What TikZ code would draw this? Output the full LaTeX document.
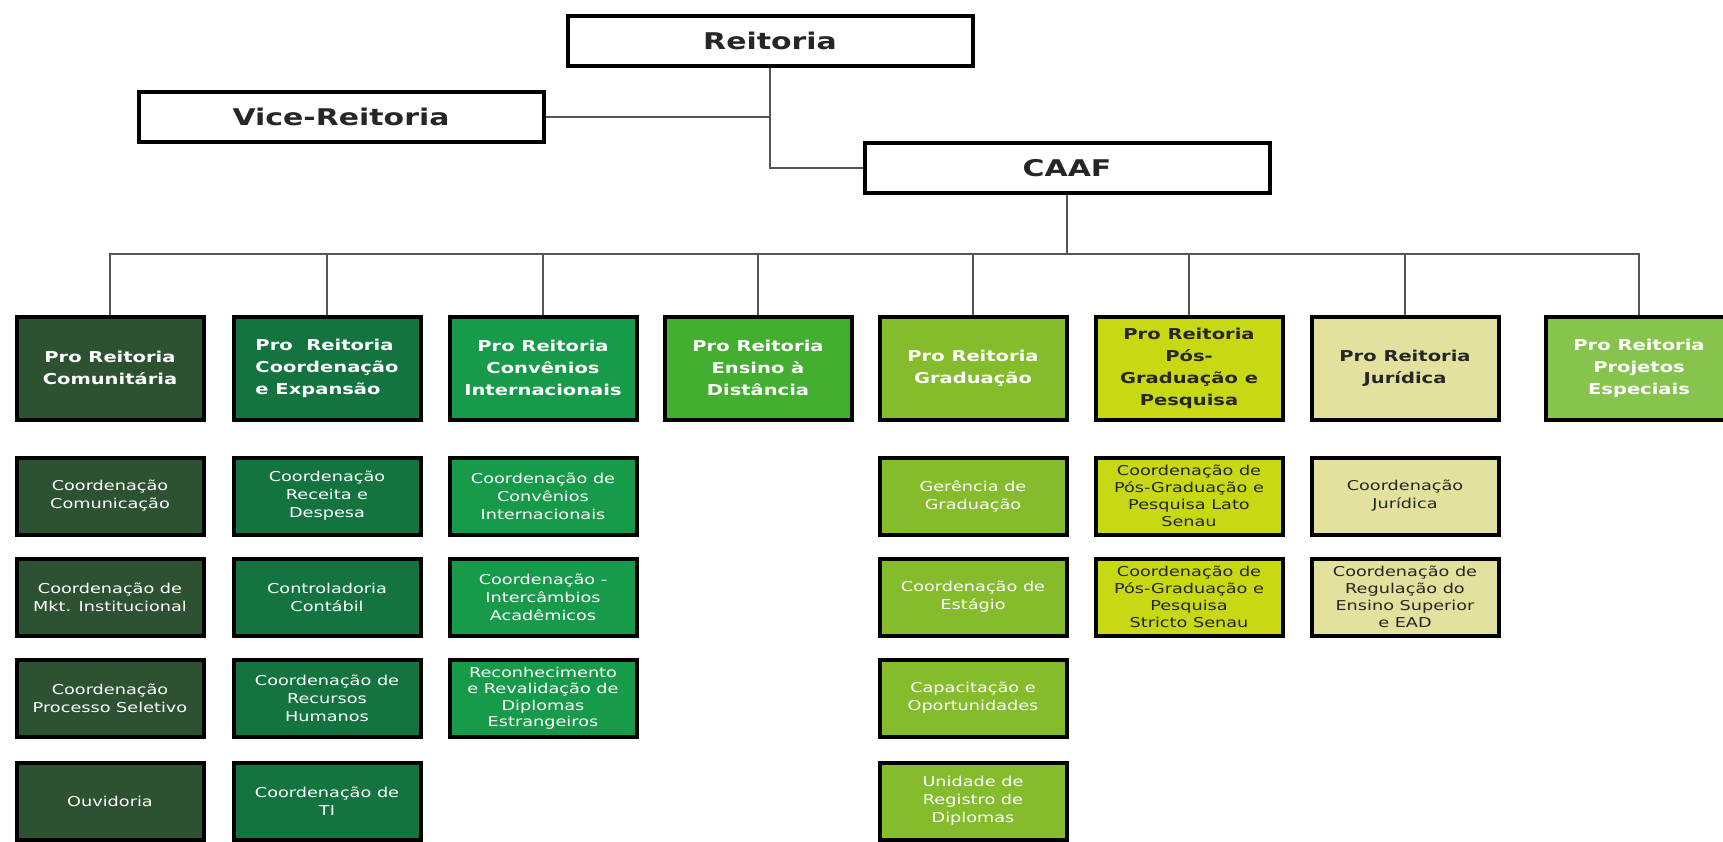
\documentclass[tikz,border=0pt]{standalone}
\usepackage{fontspec}
\setmainfont{DejaVu Sans}[FakeStretch=1.3]
\usetikzlibrary{shadows}
\definecolor{cA}{HTML}{2D5232}
\definecolor{cB}{HTML}{137440}
\definecolor{cC}{HTML}{179A4A}
\definecolor{cD}{HTML}{44AE30}
\definecolor{cE}{HTML}{84BC2C}
\definecolor{cF}{HTML}{C8D812}
\definecolor{cG}{HTML}{E2E29E}
\definecolor{cH}{HTML}{86C44E}
\definecolor{linec}{HTML}{555555}
\tikzset{
  boxbase/.style={draw=black, line width=4pt, inner sep=0pt, align=center,
    drop shadow={shadow xshift=2pt, shadow yshift=-2pt, opacity=0.35, fill=gray}},
  headbox/.style={boxbase, fill=white, minimum width=405, minimum height=50,
    font=\fontsize{23}{27}\selectfont\bfseries, text=black!85},
  probox/.style={boxbase, minimum width=187, minimum height=103,
    font=\fontsize{15}{22}\selectfont\bfseries, text=white},
  subbox/.style={boxbase, minimum width=187, minimum height=77,
    font=\fontsize{13.6}{18}\selectfont, text=white},
  conn/.style={draw=linec, line width=1.4pt}
}
\begin{document}
\begin{tikzpicture}[x=1pt,y=-1pt]
\useasboundingbox (0,0) rectangle (1723,842);
% top level
\node[headbox] (reit) at (770,41) {Reitoria};
\node[headbox] (vice) at (341,117) {Vice-Reitoria};
\node[headbox] (caaf) at (1067,168) {CAAF};
% pro-reitorias
\node[probox, fill=cA] (p1) at (110,368) {Pro Reitoria\\Comunitária};
\node[probox, fill=cB, align=left] (p2) at (327,368) {Pro\ \ Reitoria\\Coordenação\\e Expansão};
\node[probox, fill=cC] (p3) at (543,368) {Pro Reitoria\\Convênios\\Internacionais};
\node[probox, fill=cD] (p4) at (758,368) {Pro Reitoria\\Ensino à\\Distância};
\node[probox, fill=cE] (p5) at (973,368) {Pro Reitoria\\Graduação};
\node[probox, fill=cF, text=black!85] (p6) at (1189,368) {Pro Reitoria\\Pós-\\Graduação e\\Pesquisa};
\node[probox, fill=cG, text=black!85] (p7) at (1405,368) {Pro Reitoria\\Jurídica};
\node[probox, fill=cH] (p8) at (1639,368) {Pro Reitoria\\Projetos\\Especiais};
% connectors
\coordinate (bus) at (0,254);
\draw[conn] (vice.east) -- (vice.east -| reit.south);
\draw[conn] (reit.south) |- (caaf.west);
\draw[conn] (caaf.south) -- (caaf.south |- bus);
\draw[conn] (p1.north) |- (p8.north |- bus) -- (p8.north);
\foreach \n in {p2,p3,p4,p5,p6,p7} \draw[conn] (\n.north) -- (\n.north |- bus);
% column 1
\node[subbox, fill=cA] (s11) at (110,496) {Coordenação\\Comunicação};
\node[subbox, fill=cA] (s12) at (110,597) {Coordenação de\\Mkt. Institucional};
\node[subbox, fill=cA] (s13) at (110,698) {Coordenação\\Processo Seletivo};
\node[subbox, fill=cA] (s14) at (110,801) {Ouvidoria};
% column 2
\node[subbox, fill=cB] (s21) at (327,496) {Coordenação\\Receita e\\Despesa};
\node[subbox, fill=cB] (s22) at (327,597) {Controladoria\\Contábil};
\node[subbox, fill=cB] (s23) at (327,698) {Coordenação de\\Recursos\\Humanos};
\node[subbox, fill=cB] (s24) at (327,801) {Coordenação de\\TI};
% column 3
\node[subbox, fill=cC] (s31) at (543,496) {Coordenação de\\Convênios\\Internacionais};
\node[subbox, fill=cC] (s32) at (543,597) {Coordenação -\\Intercâmbios\\Acadêmicos};
\node[subbox, fill=cC, font=\fontsize{13.6}{16.5}\selectfont] (s33) at (543,698) {Reconhecimento\\e Revalidação de\\Diplomas\\Estrangeiros};
% column 5
\node[subbox, fill=cE] (s51) at (973,496) {Gerência de\\Graduação};
\node[subbox, fill=cE] (s52) at (973,597) {Coordenação de\\Estágio};
\node[subbox, fill=cE] (s53) at (973,698) {Capacitação e\\Oportunidades};
\node[subbox, fill=cE] (s54) at (973,801) {Unidade de\\Registro de\\Diplomas};
% column 6
\node[subbox, fill=cF, text=black!85, font=\fontsize{13.6}{17}\selectfont] (s61) at (1189,496) {Coordenação de\\Pós-Graduação e\\Pesquisa Lato\\Senau};
\node[subbox, fill=cF, text=black!85, font=\fontsize{13.6}{17}\selectfont] (s62) at (1189,597) {Coordenação de\\Pós-Graduação e\\Pesquisa\\Stricto Senau};
% column 7
\node[subbox, fill=cG, text=black!85] (s71) at (1405,496) {Coordenação\\Jurídica};
\node[subbox, fill=cG, text=black!85, font=\fontsize{13.6}{17}\selectfont] (s72) at (1405,597) {Coordenação de\\Regulação do\\Ensino Superior\\e EAD};
\end{tikzpicture}
\end{document}
